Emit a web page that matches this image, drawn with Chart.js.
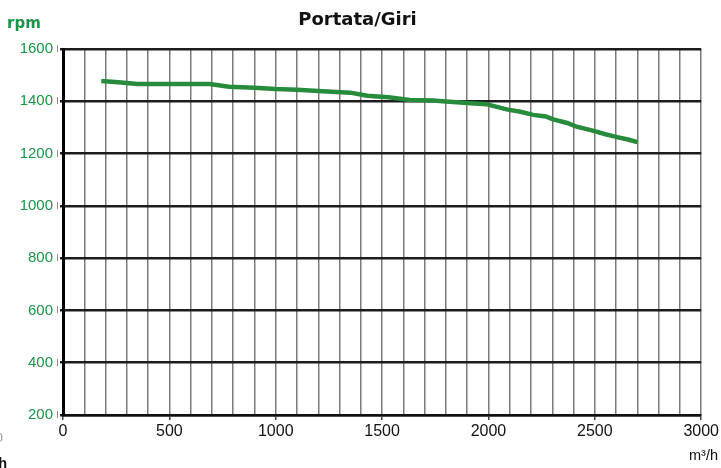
<!DOCTYPE html>
<html>
<head>
<meta charset="utf-8">
<script src="https://cdn.jsdelivr.net/npm/chart.js@4/dist/chart.umd.min.js"></script>
<style>
html,body{margin:0;padding:0;background:#fff;}
#wrap{width:721px;height:468px;position:relative;}
</style>
</head>
<body>
<div id="wrap"><canvas id="c" width="721" height="468"></canvas></div>
<script>
// Data
const flowValues = [180, 260, 350, 500, 690, 780, 900, 1000, 1100, 1200, 1350, 1430, 1530, 1630, 1740, 1800, 1900, 1990, 2085, 2150, 2210, 2270, 2300, 2370, 2410, 2490, 2550, 2600, 2660, 2700];
const rpmValues  = [1478, 1473, 1466, 1466, 1466, 1456, 1452, 1447, 1444, 1439, 1433, 1421, 1415, 1405, 1403, 1399, 1393, 1389, 1369, 1360, 1348, 1342, 1332, 1317, 1304, 1288, 1274, 1264, 1253, 1244];
const yTickValues = [200, 400, 600, 800, 1000, 1200, 1400, 1600];
const xLabelValues = [0, 500, 1000, 1500, 2000, 2500, 3000];

const GREEN_TEXT = '#1a9548';
const LINE_GREEN = '#268c3b';

const points = flowValues.map((x, i) => ({ x: x, y: rpmValues[i] }));

const decor = {
  id: 'decor',
  afterDraw(chart) {
    const ctx = chart.ctx;
    const ys = chart.scales.y;
    ctx.save();
    // small tick bars left of the y axis
    ctx.strokeStyle = '#8a8a8a';
    ctx.lineWidth = 1;
    yTickValues.forEach(v => {
      const py = Math.round(ys.getPixelForValue(v));
      ctx.beginPath();
      ctx.moveTo(57.5, py - 4);
      ctx.lineTo(57.5, py + 3);
      ctx.stroke();
    });
    // title
    ctx.fillStyle = '#111';
    ctx.font = 'bold 18px "DejaVu Sans"';
    ctx.textAlign = 'center';
    ctx.textBaseline = 'alphabetic';
    ctx.fillText('Portata/Giri', 357.5, 25);
    // y unit
    ctx.fillStyle = GREEN_TEXT;
    ctx.font = 'bold 15px "DejaVu Sans"';
    ctx.textAlign = 'left';
    ctx.fillText('rpm', 7, 28);
    // x unit
    ctx.fillStyle = '#111';
    ctx.font = '14.5px "Liberation Sans"';
    ctx.textAlign = 'right';
    ctx.fillText('m³/h', 718, 460);
    // cut-off remnants at the bottom-left edge
    ctx.fillStyle = '#999';
    ctx.font = '13px "Liberation Sans"';
    ctx.fillText('0', 3, 442);
    ctx.fillStyle = '#111';
    ctx.font = 'bold 14.5px "Liberation Sans"';
    ctx.fillText('m³/h', 7, 468);
    ctx.restore();
  }
};

new Chart(document.getElementById('c'), {
  type: 'line',
  data: {
    datasets: [{
      data: points,
      borderColor: LINE_GREEN,
      borderWidth: 4.5,
      pointRadius: 0,
      tension: 0,
      fill: false
    }]
  },
  options: {
    responsive: false,
    animation: false,
    devicePixelRatio: 1,
    layout: { padding: { left: 0, right: 19, top: 49, bottom: 13 } },
    plugins: { legend: { display: false }, title: { display: false }, tooltip: { enabled: false } },
    scales: {
      x: {
        type: 'linear',
        min: 0, max: 3000,
        afterFit(scale) { scale.height = 40; },
        afterBuildTicks(scale) {
          const t = [];
          for (let v = 0; v <= 3000; v += 100) t.push({ value: v });
          scale.ticks = t;
        },
        border: { display: true, color: '#111', width: 2.5 },
        grid: {
          color: '#7a7a7a',
          lineWidth: 1.5,
          drawTicks: true,
          tickLength: 5,
          tickWidth: 1.5,
          tickColor: (c) => (c.tick && xLabelValues.includes(c.tick.value)) ? '#444' : 'rgba(0,0,0,0)'
        },
        ticks: {
          autoSkip: false,
          maxRotation: 0,
          padding: 2,
          color: '#111',
          font: { family: 'Liberation Sans', size: 16 },
          callback: (v) => xLabelValues.includes(v) ? String(v) : ''
        }
      },
      y: {
        min: 200, max: 1600,
        afterFit(scale) { scale.width = 63; },
        afterBuildTicks(scale) { scale.ticks = yTickValues.map(v => ({ value: v })); },
        border: { display: true, color: '#000', width: 3 },
        grid: {
          color: '#1c1c1c',
          lineWidth: 2.5,
          drawTicks: true,
          tickLength: 3,
          tickColor: '#1c1c1c'
        },
        ticks: {
          padding: 7,
          color: GREEN_TEXT,
          font: { family: 'Liberation Sans', size: 15 },
          callback: (v) => String(v)
        }
      }
    }
  },
  plugins: [decor]
});
</script>
</body>
</html>
